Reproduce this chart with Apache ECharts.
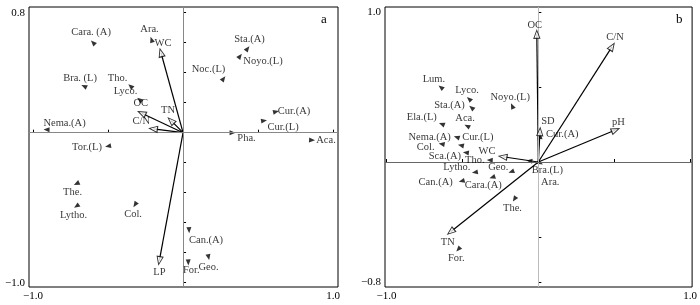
<!DOCTYPE html>
<html>
<head>
<meta charset="utf-8">
<script src="https://cdn.jsdelivr.net/npm/echarts@6/dist/echarts.min.js"></script>
<style>
  html, body { margin: 0; padding: 0; background: #fff; }
  #chart { width: 700px; height: 305px; }
</style>
</head>
<body>
<div id="chart"></div>
<script>
// Panel a: species scores
var aSpecies = ['Cara. (A)', 'Ara.', 'Bra. (L)', 'Tho.', 'Lyco.', 'Nema.(A)', 'Tor.(L)', 'Sta.(A)', 'Noyo.(L)', 'Noc.(L)',
  'Cur.(A)', 'Cur.(L)', 'Pha.', 'Aca.', 'The.', 'Lytho.', 'Col.', 'Can.(A)', 'For.', 'Geo.'];
var aSpeciesX = [-0.60, -0.21, -0.66, -0.35, -0.29, -0.91, -0.50, 0.43, 0.38, 0.27,
  0.62, 0.54, 0.33, 0.86, -0.71, -0.71, -0.32, 0.04, 0.035, 0.17];
var aSpeciesY = [0.60, 0.62, 0.31, 0.31, 0.22, 0.02, -0.09, 0.56, 0.51, 0.36,
  0.14, 0.08, 0.0, -0.05, -0.34, -0.49, -0.48, -0.65, -0.865, -0.83];

// Panel a: environmental arrows
var aEnv = ['WC', 'OC', 'TN', 'C/N', 'LP'];
var aEnvX = [-0.147, -0.275, -0.08, -0.198, -0.158];
var aEnvY = [0.533, 0.13, 0.08, 0.025, -0.853];

// Panel b: species scores
var bSpecies = ['Lum.', 'Lyco.', 'Sta.(A)', 'Noyo.(L)', 'Ela.(L)', 'Aca.', 'Nema.(A)', 'Cur.(L)', 'Col.', 'Sca.(A)',
  'Tho.', 'Lytho.', 'Geo.', 'Can.(A)', 'Cara.(A)', 'The.', 'For.', 'Bra.(L)', 'Ara.', 'Cur.(A)'];
var bSpeciesX = [-0.642, -0.456, -0.44, -0.172, -0.636, -0.469, -0.538, -0.51, -0.637, -0.477,
  -0.32, -0.418, -0.178, -0.505, -0.303, -0.157, -0.527, -0.059, 0.013, 0.013];
var bSpeciesY = [0.498, 0.42, 0.362, 0.373, 0.253, 0.24, 0.165, 0.111, 0.12, 0.062,
  0.013, -0.069, -0.065, -0.127, -0.102, -0.247, -0.582, 0.007, -0.007, 0.173];

// Panel b: environmental arrows
var bEnv = ['OC', 'C/N', 'pH', 'SD', 'TN', 'WC'];
var bEnvX = [-0.01, 0.486, 0.508, 0.011, -0.577, -0.233];
var bEnvY = [0.851, 0.769, 0.213, 0.202, -0.465, 0.035];

// Axis ticks and labelled ticks
var aTicksX = [-1, -0.5, 0, 0.5, 1];
var aTicksY = [-1, -0.8, -0.6, -0.4, -0.2, 0, 0.2, 0.4, 0.6, 0.8];
var aLabelsX = [-1, 1];
var aLabelsY = [-1, 0.8];
var bTicksX = [-1, -0.5, 0, 0.5, 1];
var bTicksY = [-0.8, -0.5, 0, 0.5, 1];
var bLabelsX = [-1, 1];
var bLabelsY = [-0.8, 1];

// label placement (pixel shift from the point), style only
var aShift = {
  'Cara. (A)': [-2, -10], 'Ara.': [-2, -10], 'Bra. (L)': [-4, -8], 'Tho.': [-13, -8], 'Lyco.': [-14, -8],
  'Nema.(A)': [18, -6], 'Tor.(L)': [-21, 1], 'Sta.(A)': [2, -9], 'Noyo.(L)': [23, 5], 'Noc.(L)': [-15, -9],
  'Cur.(A)': [18, 0], 'Cur.(L)': [19, 7], 'Pha.': [14, 6], 'Aca.': [14, 0], 'The.': [-4, 9],
  'Lytho.': [-3, 9], 'Col.': [-2, 10], 'Can.(A)': [17, 10], 'For.': [3, 8], 'Geo.': [0, 10]
};
var aEnvShift = { 'WC': [2, -9], 'OC': [-1, -10], 'TN': [-3, -10], 'C/N': [-12, -8], 'LP': [0, 12] };
var bShift = {
  'Lum.': [-7, -8], 'Lyco.': [-2, -9], 'Sta.(A)': [-22, -2], 'Noyo.(L)': [-2, -9], 'Ela.(L)': [-20, -7],
  'Aca.': [-2, -8], 'Nema.(A)': [-27, 0], 'Cur.(L)': [17, -8], 'Col.': [-16, 3], 'Sca.(A)': [-21, 4],
  'Tho.': [-15, 0], 'Lytho.': [-18, -5], 'Geo.': [-13, -5], 'Can.(A)': [-26, 1], 'Cara.(A)': [-9, 8],
  'The.': [-2, 9], 'For.': [-2, 9], 'Bra.(L)': [18, 9], 'Ara.': [10, 19], 'Cur.(A)': [22, -2]
};
var bEnvShift = { 'OC': [-2, -9], 'C/N': [3, -9], 'pH': [3, -8], 'SD': [8, -10], 'TN': [-3, 10], 'WC': [-16, -6] };

var FONT = 'Liberation Serif';

function rot(x, y) {
  return Math.atan2(y, x) * 180 / Math.PI - 90;
}

function fmt(v) {
  return (v < 0 ? '\u2212' : '') + Math.abs(v).toFixed(1);
}

function panelSeries(gi, names, xs, ys, shift, env, ex, ey, envShift, zeroX, zeroY) {
  var labelStyle = { show: true, position: 'inside', formatter: '{b}', color: '#000', fontFamily: FONT, fontSize: 10.5 };
  var list = [];

  // zero lines + species labels
  list.push({
    type: 'scatter', xAxisIndex: gi, yAxisIndex: gi, symbolSize: 1, z: 5,
    itemStyle: { color: 'rgba(0,0,0,0)' },
    label: labelStyle,
    data: names.map(function (n, i) {
      return { name: n, value: [xs[i], ys[i]], label: { offset: shift[n] || [0, 0] } };
    }).concat(env.map(function (n, i) {
      return { name: n, value: [ex[i], ey[i]], label: { offset: envShift[n] || [0, 0] } };
    })),
    markLine: {
      silent: true, symbol: ['none', 'none'], label: { show: false }, animation: false,
      data: [
        { xAxis: 0, lineStyle: { color: zeroX, width: 1, type: 'solid' } },
        { yAxis: 0, lineStyle: { color: zeroY, width: 1, type: 'solid' } }
      ]
    }
  });

  // species triangles
  list.push({
    type: 'scatter', xAxisIndex: gi, yAxisIndex: gi, symbol: 'triangle', symbolSize: [5, 6], z: 4,
    itemStyle: { color: '#000' },
    data: names.map(function (n, i) {
      return { name: n, value: [xs[i], ys[i]], symbolRotate: rot(xs[i], ys[i]) };
    })
  });

  // arrow shafts
  list.push({
    type: 'lines', coordinateSystem: 'cartesian2d', xAxisIndex: gi, yAxisIndex: gi, z: 3,
    lineStyle: { color: '#000', width: 1.2, opacity: 1 },
    data: env.map(function (n, i) { return { coords: [[0, 0], [ex[i], ey[i]]] }; })
  });

  // arrow heads (open triangles)
  list.push({
    type: 'scatter', xAxisIndex: gi, yAxisIndex: gi, symbol: 'triangle', symbolSize: [6, 8], z: 6,
    itemStyle: { color: '#fff', borderColor: '#000', borderWidth: 1 },
    data: env.map(function (n, i) {
      return { name: n, value: [ex[i], ey[i]], symbolRotate: rot(ex[i], ey[i]) };
    })
  });
  return list;
}

function axis(gi, min, max, ticks, labels) {
  return {
    type: 'value', gridIndex: gi, min: min, max: max,
    splitLine: { show: false },
    axisLine: { show: false },
    axisTick: { inside: true, length: 3, customValues: ticks, lineStyle: { color: '#000', width: 1 } },
    axisLabel: { customValues: labels, formatter: fmt, color: '#000', fontFamily: FONT, fontSize: 11, margin: 4 }
  };
}

var chart = echarts.init(document.getElementById('chart'));
chart.setOption({
  animation: false,
  backgroundColor: '#fff',
  title: [
    { text: 'a', left: 321, top: 13, padding: 0, textStyle: { fontFamily: FONT, fontSize: 13, fontWeight: 'normal', color: '#000' } },
    { text: 'b', left: 676, top: 13, padding: 0, textStyle: { fontFamily: FONT, fontSize: 13, fontWeight: 'normal', color: '#000' } }
  ],
  grid: [
    { left: 29, top: 7, width: 309, height: 280, show: true, borderColor: '#000', borderWidth: 1 },
    { left: 385, top: 7, width: 309, height: 280, show: true, borderColor: '#000', borderWidth: 1 }
  ],
  xAxis: [
    axis(0, -1.027, 1.033, aTicksX, aLabelsX),
    axis(1, -1.01, 1.013, bTicksX, bLabelsX)
  ],
  yAxis: [
    axis(0, -1.029, 0.838, aTicksY, aLabelsY),
    axis(1, -0.833, 1.033, bTicksY, bLabelsY)
  ],
  series: []
    .concat(panelSeries(0, aSpecies, aSpeciesX, aSpeciesY, aShift, aEnv, aEnvX, aEnvY, aEnvShift, '#888', '#888'))
    .concat(panelSeries(1, bSpecies, bSpeciesX, bSpeciesY, bShift, bEnv, bEnvX, bEnvY, bEnvShift, '#bbb', '#666'))
});
</script>
</body>
</html>
